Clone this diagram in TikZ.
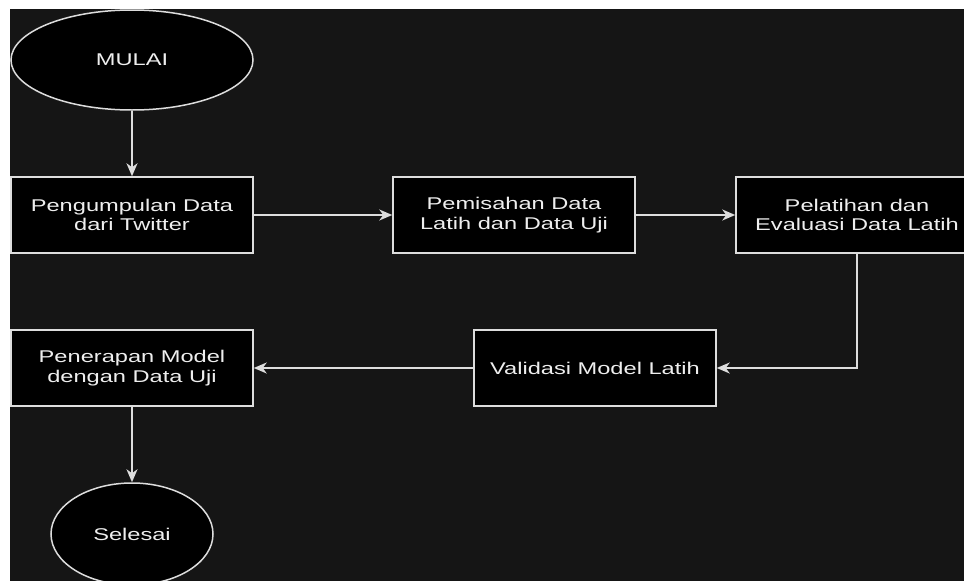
\documentclass[tikz,border=0pt]{standalone}
\usepackage{fontspec}
\newfontfamily\flowfont{Liberation Sans}[FakeStretch=1.39]
\usetikzlibrary{arrows.meta,shapes.geometric}

\definecolor{canvas}{HTML}{151515}
\definecolor{edge}{HTML}{DDDDDD}
\definecolor{label}{HTML}{EEEEEE}

\tikzset{
  base/.style={draw=edge, fill=black, line width=1.5pt, text=label,
    font=\flowfont\fontsize{17}{19.5}\selectfont, align=center, inner sep=0pt},
  stepbox/.style={base, rectangle, minimum width=242pt, minimum height=76pt},
  terminal/.style={base, ellipse},
  flow/.style={draw=edge, line width=1.5pt,
    -{Stealth[length=13pt,width=11pt,inset=4pt]}}
}

\begin{document}
\begin{tikzpicture}[x=1pt,y=-1pt]
  % page and dark canvas
  \useasboundingbox (0,0) rectangle (964,581);
  \fill[white] (0,0) rectangle (964,581);
  \fill[canvas] (10,9) rectangle (964,581);
  \clip (10,9) rectangle (964,581);

  % terminals
  \node[terminal, minimum width=242pt, minimum height=100pt] (start) at (132,60) {MULAI};
  \node[terminal, minimum width=162pt, minimum height=102pt] (end) at (132,534) {Selesai};

  % process steps
  \node[stepbox] (collect)  at (132,215) {Pengumpulan Data\\dari Twitter};
  \node[stepbox] (split)    at (514,215) {Pemisahan Data\\Latih dan Data Uji};
  \node[stepbox] (train)    at (857,215) {Pelatihan dan\\Evaluasi Data Latih};
  \node[stepbox] (validate) at (595,368) {Validasi Model Latih};
  \node[stepbox] (apply)    at (132,368) {Penerapan Model\\dengan Data Uji};

  % connectors
  \draw[flow] (start.south) -- (collect.north);
  \draw[flow] (collect.east) -- (split.west);
  \draw[flow] (split.east) -- (train.west);
  \draw[flow] (train.south) |- (validate.east);
  \draw[flow] (validate.west) -- (apply.east);
  \draw[flow] (apply.south) -- (end.north);
\end{tikzpicture}
\end{document}
